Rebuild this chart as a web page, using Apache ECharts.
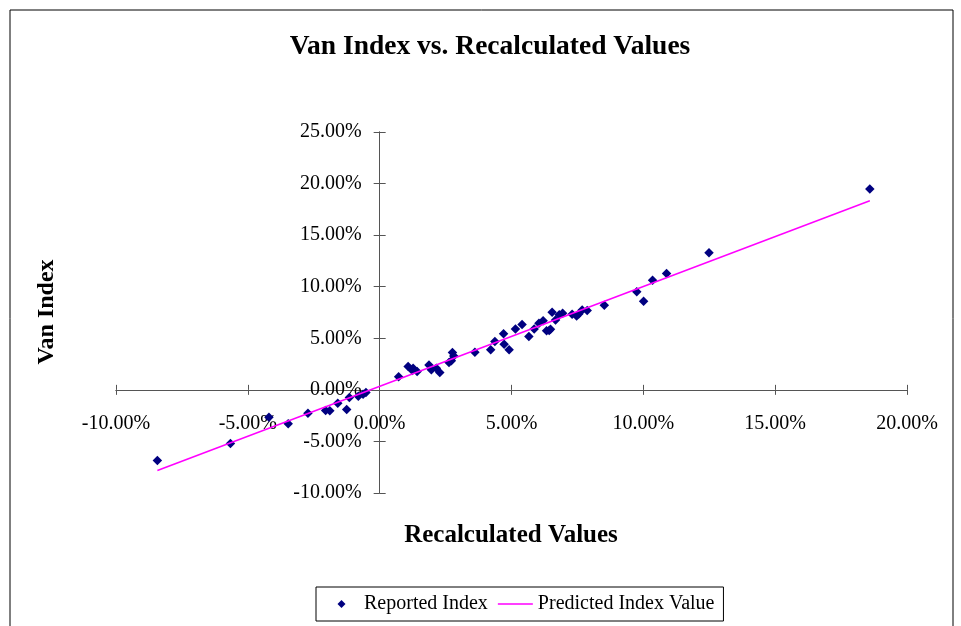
<!DOCTYPE html>
<html>
<head>
<meta charset="utf-8">
<title>Van Index vs. Recalculated Values</title>
<script src="https://cdn.jsdelivr.net/npm/echarts@6/dist/echarts.min.js"></script>
<style>
  html, body { margin: 0; padding: 0; background: #fff; }
  #chart { width: 961px; height: 626px; }
</style>
</head>
<body>
<div id="chart"></div>
<script>
// values in percent
var recalculated = [-8.43, -5.66, -4.20, -3.47, -2.72, -2.05, -1.89, -1.59, -1.25, -1.15, -0.81, -0.63, -0.52,
    0.72, 1.08, 1.27, 1.24, 1.42, 1.87, 1.96, 2.15, 2.28, 2.63, 2.72, 2.76, 2.81, 3.61, 4.21, 4.37, 4.70,
    4.72, 4.91, 5.15, 5.40, 5.66, 5.86, 6.04, 6.20, 6.33, 6.43, 6.48, 6.54, 6.67, 6.81, 6.94, 7.30, 7.47,
    7.55, 7.68, 7.87, 8.52, 9.75, 10.01, 10.35, 10.88, 12.49, 18.59];
var reportedIndex = [-6.85, -5.20, -2.65, -3.29, -2.26, -2.00, -2.03, -1.29, -1.90, -0.74, -0.61, -0.42, -0.26,
    1.27, 2.26, 2.10, 1.87, 1.77, 2.42, 1.94, 2.10, 1.68, 2.65, 2.81, 3.61, 3.29, 3.65, 3.88, 4.68, 5.43,
    4.43, 3.88, 5.91, 6.33, 5.17, 5.91, 6.46, 6.69, 5.72, 5.75, 5.88, 7.53, 6.78, 7.27, 7.43, 7.34, 7.17,
    7.36, 7.75, 7.69, 8.20, 9.50, 8.59, 10.63, 11.27, 13.30, 19.48];
// predicted line (two ends)
var predictedX = [-8.43, 18.59];
var predictedY = [-7.82, 18.34];

var xRange = [-10, 20];
var yRange = [-10, 25];
var seriesNames = ['Reported Index', 'Predicted Index Value'];

var serif = "'Liberation Serif', 'Times New Roman', serif";
var axisColor = '#555';

var chart = echarts.init(document.getElementById('chart'));

var scatterData = [];
for (var i = 0; i < recalculated.length; i++) {
    scatterData.push([recalculated[i], reportedIndex[i]]);
}
var lineData = [];
for (var j = 0; j < predictedX.length; j++) {
    lineData.push([predictedX[j], predictedY[j]]);
}

function pct(v) {
    return v.toFixed(2) + '%';
}

// main axis (labels + outer ticks) and a twin axis for the ticks on the other side
function xAxisOpt(main) {
    return {
        type: 'value',
        position: main ? 'bottom' : 'top',
        min: xRange[0], max: xRange[1], interval: 5,
        axisLine: { show: true, onZero: false, lineStyle: { color: axisColor, width: 1 } },
        axisTick: { show: true, length: 5, lineStyle: { color: axisColor } },
        axisLabel: { show: main, margin: 24, formatter: pct, color: '#000', fontFamily: serif, fontSize: 20 },
        splitLine: { show: false }
    };
}
function yAxisOpt(main) {
    return {
        type: 'value',
        position: main ? 'left' : 'right',
        min: yRange[0], max: yRange[1], interval: 5,
        axisLine: { show: true, onZero: false, lineStyle: { color: axisColor, width: 1 } },
        axisTick: { show: true, length: 6, lineStyle: { color: axisColor } },
        axisLabel: { show: main, margin: 18, formatter: pct, color: '#000', fontFamily: serif, fontSize: 20 },
        splitLine: { show: false }
    };
}

// legend icons: small diamond in the middle of a 35px wide box, thin line for the fit
var diamondIcon = 'path://M0,0 L0.01,0 Z M17.5,0.5 L21.5,4.5 L17.5,8.5 L13.5,4.5 Z M34.99,9 L35,9 Z';
var lineIcon = 'path://M0,3.8 L35,3.8 L35,5.2 L0,5.2 Z M0,0 L0.01,0 Z M34.99,9 L35,9 Z';

var option = {
    backgroundColor: '#fff',
    animation: false,
    title: {
        text: 'Van Index vs. Recalculated Values',
        left: 485, top: 28, textAlign: 'center',
        textStyle: { fontFamily: serif, fontSize: 27.5, fontWeight: 'bold', color: '#000' }
    },
    grid: { left: 116, right: 54, top: 132, bottom: 133 },
    xAxis: [xAxisOpt(true), xAxisOpt(false)],
    yAxis: [yAxisOpt(true), yAxisOpt(false)],
    legend: {
        data: [
            { name: seriesNames[0], icon: diamondIcon },
            { name: seriesNames[1], icon: lineIcon }
        ],
        left: 316, top: 587,
        padding: [7, 9, 7, 8],
        borderColor: '#000', borderWidth: 1,
        itemWidth: 35, itemHeight: 9, itemGap: 10,
        symbolKeepAspect: true,
        textStyle: { fontFamily: serif, fontSize: 20, color: '#000' }
    },
    graphic: [
        { type: 'rect', shape: { x: 10, y: 10, width: 943, height: 640 }, style: { fill: 'none', stroke: '#000', lineWidth: 1 }, silent: true },
        { type: 'text', x: 511, y: 536, style: { text: 'Recalculated Values', fontFamily: serif, fontSize: 25, fontWeight: 'bold', fill: '#000', align: 'center', verticalAlign: 'middle' } },
        { type: 'text', x: 47, y: 312, rotation: Math.PI / 2, style: { text: 'Van Index', fontFamily: serif, fontSize: 24, fontWeight: 'bold', fill: '#000', align: 'center', verticalAlign: 'middle' } }
    ],
    series: [
        {
            name: seriesNames[0],
            type: 'scatter',
            xAxisIndex: 0, yAxisIndex: 0,
            symbol: 'diamond',
            symbolSize: 9.5,
            itemStyle: { color: '#000080', opacity: 1 },
            data: scatterData,
            z: 3
        },
        {
            name: seriesNames[1],
            type: 'line',
            xAxisIndex: 0, yAxisIndex: 0,
            symbol: 'none',
            lineStyle: { color: '#ff00ff', width: 1.5 },
            itemStyle: { color: '#ff00ff' },
            data: lineData,
            z: 4
        }
    ]
};

chart.setOption(option);

// move the axes so they cross at 0 / 0 (offset from the grid edges)
var zero = chart.convertToPixel({ gridIndex: 0 }, [0, 0]);
var lowCorner = chart.convertToPixel({ gridIndex: 0 }, [xRange[0], yRange[0]]);
var highCorner = chart.convertToPixel({ gridIndex: 0 }, [xRange[1], yRange[1]]);
chart.setOption({
    xAxis: [
        { offset: zero[1] - lowCorner[1] },
        { offset: highCorner[1] - zero[1] }
    ],
    yAxis: [
        { offset: lowCorner[0] - zero[0] },
        { offset: zero[0] - highCorner[0] }
    ]
});
</script>
</body>
</html>
